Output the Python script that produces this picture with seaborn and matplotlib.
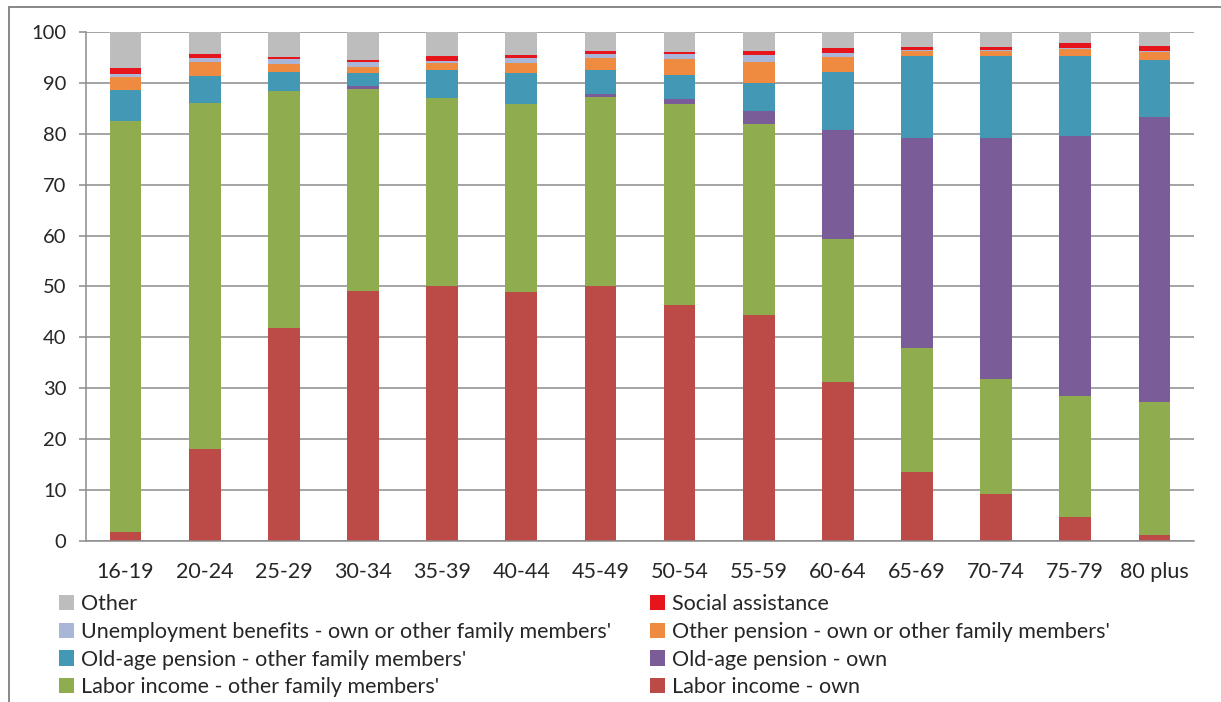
import numpy as np
import pandas as pd
import matplotlib
matplotlib.use("Agg")
import matplotlib.pyplot as plt
from matplotlib.patches import Patch
from matplotlib.lines import Line2D
import seaborn as sns

# Age groups
ages = ["16-19", "20-24", "25-29", "30-34", "35-39", "40-44", "45-49",
        "50-54", "55-59", "60-64", "65-69", "70-74", "75-79", "80 plus"]

# Share of each income source (%), bottom of the stack first
labor_own = [1.8, 18.0, 41.8, 49.1, 50.1, 48.9, 50.1, 46.4, 44.4, 31.2, 13.5, 9.3, 4.8, 1.2]
labor_family = [80.7, 68.1, 46.6, 39.7, 36.9, 36.9, 37.2, 39.4, 37.6, 28.1, 24.4, 22.5, 23.6, 26.1]
oldage_own = [0.0, 0.0, 0.0, 0.5, 0.0, 0.0, 0.5, 1.1, 2.5, 21.4, 41.2, 47.4, 51.1, 56.0]
oldage_family = [6.1, 5.3, 3.8, 2.7, 5.5, 6.2, 4.8, 4.6, 5.4, 11.4, 16.2, 16.1, 15.8, 11.2]
other_pension = [2.6, 2.8, 1.5, 1.2, 1.5, 2.0, 2.3, 3.2, 4.3, 2.9, 0.9, 0.9, 1.3, 1.5]
unemployment = [0.5, 0.7, 1.0, 0.9, 0.4, 0.9, 0.8, 0.9, 1.2, 0.9, 0.2, 0.2, 0.2, 0.2]
social = [1.2, 0.8, 0.4, 0.4, 0.9, 0.5, 0.6, 0.5, 0.9, 0.9, 0.6, 0.6, 1.0, 1.0]
other = [7.1, 4.3, 4.9, 5.5, 4.7, 4.6, 3.7, 3.9, 3.7, 3.2, 3.0, 3.0, 2.2, 2.8]

series_names = [
    "Labor income - own",
    "Labor income - other family members'",
    "Old-age pension - own",
    "Old-age pension - other family members'",
    "Other pension - own or other family members'",
    "Unemployment benefits - own or other family members'",
    "Social assistance",
    "Other",
]
series_values = [labor_own, labor_family, oldage_own, oldage_family,
                 other_pension, unemployment, social, other]
colors = ["#BC4A46", "#8FAD4F", "#7A5C98", "#4399B5",
          "#EE8B40", "#A9B6D8", "#E5151B", "#BDBDBD"]

df = pd.DataFrame({name: vals for name, vals in zip(series_names, series_values)})
df.insert(0, "age", ages)
cum = df[series_names].cumsum(axis=1)

sns.set_style("white")
plt.rcParams["font.family"] = ["Lato", "DejaVu Sans"]

fig = plt.figure(figsize=(12.21, 7.02), dpi=100)
ax = fig.add_axes([86 / 1221, 1 - 541 / 702, (1194 - 86) / 1221, (541 - 32) / 702])

# Stacked bars: draw cumulative totals from the top segment down
for name, col in reversed(list(zip(series_names, colors))):
    sns.barplot(x=df["age"], y=cum[name], color=col, width=0.4,
                saturation=1, ax=ax, linewidth=0, order=ages)

grid_col = "#8C8C8C"
ax.set_ylim(0, 100)
ax.set_xlim(-0.5, len(ages) - 0.5)
ax.set_yticks(np.arange(0, 101, 10))
ax.yaxis.grid(True, color=grid_col, linewidth=1.1)
ax.set_axisbelow(True)
ax.set_xlabel("")
ax.set_ylabel("")
ax.set_xticks(range(len(ages)))
ax.set_xticklabels(ages)
ax.set_xticks(np.arange(-0.5, len(ages), 1), minor=True)

for s in ["top", "right"]:
    ax.spines[s].set_visible(False)
for s in ["left", "bottom"]:
    ax.spines[s].set_color(grid_col)
    ax.spines[s].set_linewidth(1.1)

ax.tick_params(axis="x", which="major", length=0, pad=15, labelsize=15.5, labelcolor="#262626")
ax.tick_params(axis="x", which="minor", length=6, width=1.1, color=grid_col, direction="out")
ax.tick_params(axis="y", which="major", length=5, width=1.1, color=grid_col, pad=9,
               labelsize=14.5, labelcolor="#262626", direction="out", left=True)

# Legend in two columns
color_of = dict(zip(series_names, colors))
left_col = ["Other", "Unemployment benefits - own or other family members'",
            "Old-age pension - other family members'", "Labor income - other family members'"]
right_col = ["Social assistance", "Other pension - own or other family members'",
             "Old-age pension - own", "Labor income - own"]

def make_legend(names, x):
    handles = [Patch(facecolor=color_of[n], edgecolor="none") for n in names]
    return fig.legend(handles, names, loc="upper left", bbox_to_anchor=(x, 1 - 594 / 702),
                      frameon=False, fontsize=15.5, handlelength=0.7, handleheight=0.7,
                      handletextpad=0.3, labelspacing=0.36, borderpad=0, borderaxespad=0,
                      labelcolor="#262626")

make_legend(left_col, 59 / 1221)
make_legend(right_col, 650 / 1221)

# Outer frame lines
fig.add_artist(Line2D([9 / 1221, 9 / 1221], [0, 1 - 7 / 702], color="#7F7F7F", linewidth=1.3))
fig.add_artist(Line2D([9 / 1221, 1], [1 - 7 / 702, 1 - 7 / 702], color="#7F7F7F", linewidth=1.3))

fig.savefig("out.png", dpi=100)
